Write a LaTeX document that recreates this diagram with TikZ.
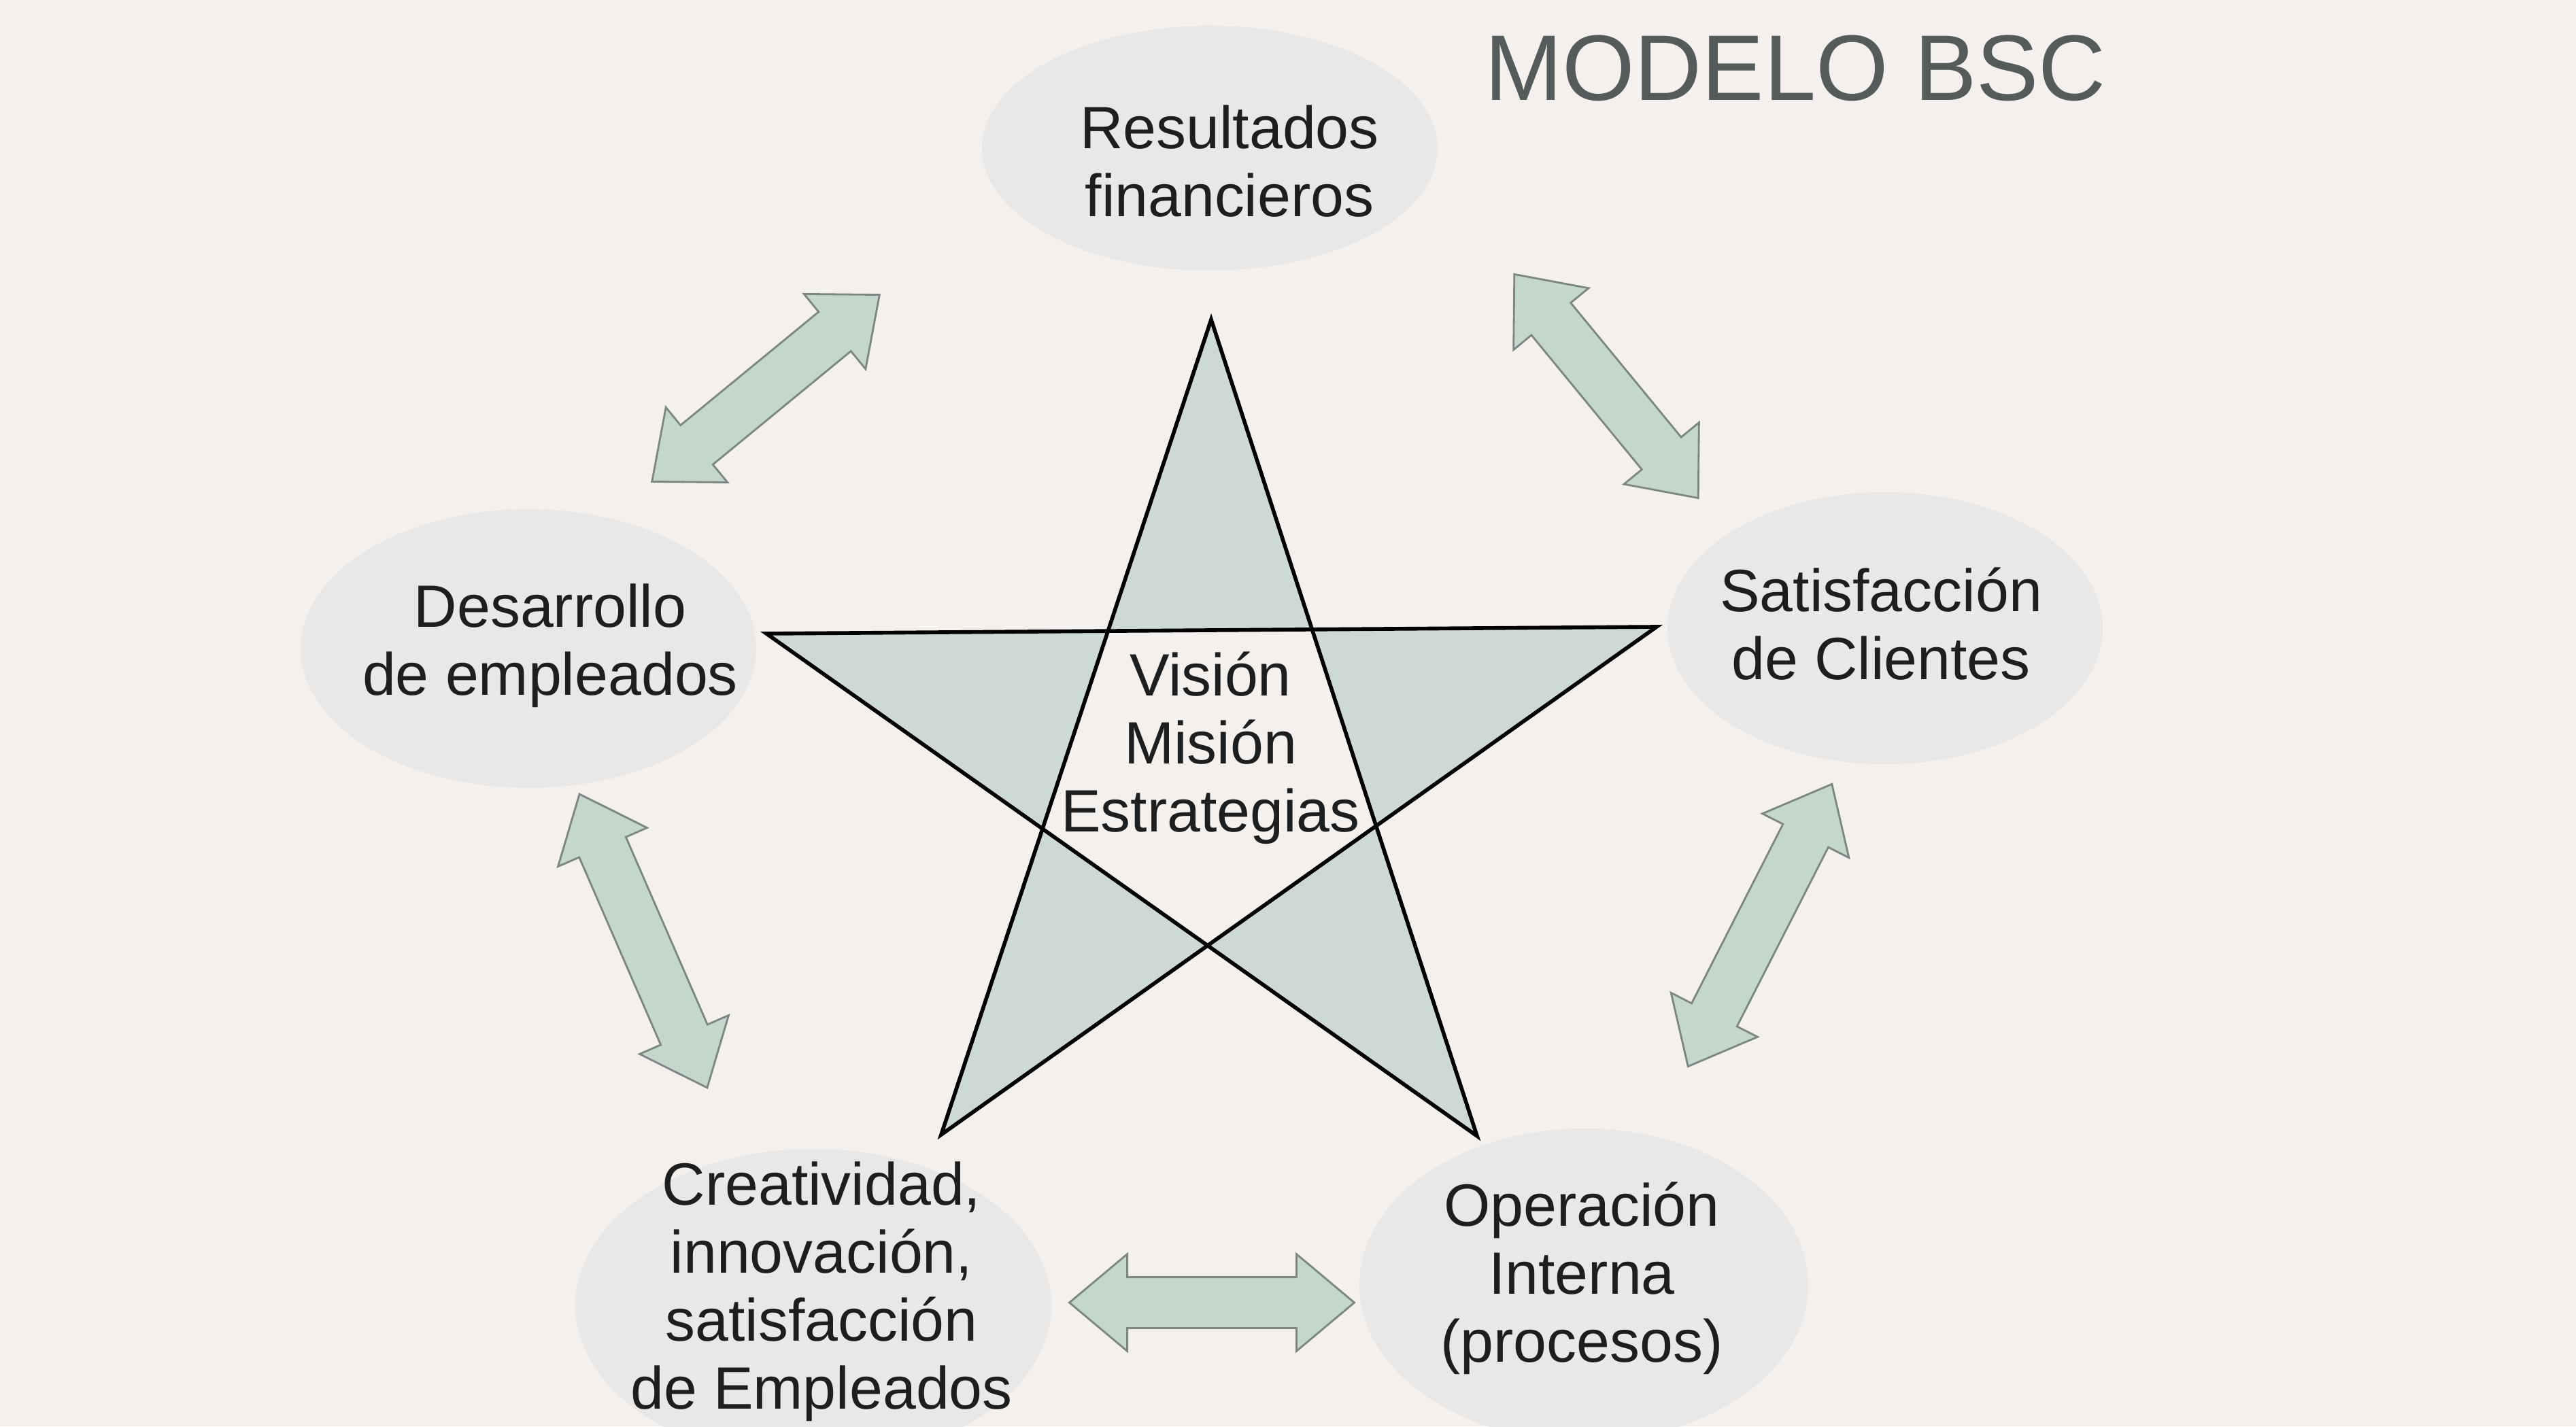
\documentclass[tikz,border=0pt]{standalone}
\usepackage{fontspec}
\setmainfont{Liberation Sans}
\usepackage{tikz}
\usetikzlibrary{shapes.arrows}
\definecolor{hoja}{RGB}{243,240,238}
\definecolor{ovalo}{RGB}{234,232,230}
\definecolor{estrella}{RGB}{205,218,212}
\definecolor{flechaverde}{RGB}{195,215,205}
\definecolor{bordeflecha}{RGB}{125,135,130}
\definecolor{titulogris}{RGB}{85,90,90}
\definecolor{letra}{RGB}{30,30,30}
\tikzset{
  rotulo/.style={align=center, text=letra, inner sep=0pt, font=\fontsize{25}{28.5}\selectfont},
  titulo/.style={text=titulogris, inner sep=0pt, font=\fontsize{39}{44}\selectfont},
  flecha/.style={double arrow, draw=bordeflecha, fill=flechaverde, line width=0.8pt,
    inner xsep=0pt, inner ysep=0.36cm, double arrow head extend=0.34cm, double arrow tip angle=80},
}

\begin{document}
\begin{tikzpicture}
\fill[hoja] (0,0) rectangle (37.88,20.98);
\useasboundingbox (0,0) rectangle (37.88,20.98);
\fill[ovalo] (17.79,18.80) ellipse [x radius=3.35, y radius=1.8];
\fill[ovalo] (7.77,11.44) ellipse [x radius=3.35, y radius=2.05];
\fill[ovalo] (27.72,11.74) ellipse [x radius=3.2, y radius=2.0];
\fill[ovalo] (11.96,1.78) ellipse [x radius=3.5, y radius=2.3];
\fill[ovalo] (23.29,2.08) ellipse [x radius=3.3, y radius=2.3];
\coordinate (pa) at (17.81,16.28);
\coordinate (pb) at (24.36,11.76);
\coordinate (pc) at (21.72,4.27);
\coordinate (pd) at (13.84,4.29);
\coordinate (pe) at (11.27,11.66);
\filldraw[fill=estrella, even odd rule, line width=1.6pt] (pa)--(pd)--(pb)--(pe)--(pc)--cycle;
\node[flecha, rotate=39.4, minimum height=4.33cm] (f1) at (11.26,15.27) {};
\node[flecha, rotate=-50.6, minimum height=4.26cm] (f2) at (23.62,15.30) {};
\node[flecha, rotate=63, minimum height=4.66cm] (f3) at (25.88,7.37) {};
\node[flecha, rotate=-66.5, minimum height=4.71cm] (f4) at (9.46,7.14) {};
\node[flecha, minimum height=4.19cm] (f5) at (17.82,1.82) {};
\node[rotulo] (fin) at (18.08,18.61) {Resultados\\financieros};
\node[rotulo] (des) at (8.09,11.48) {Desarrollo\\de empleados};
\node[rotulo] (cli) at (27.66,11.80) {Satisfacción\\de Clientes};
\node[rotulo] (cre) at (12.08,1.98) {Creatividad,\\innovación,\\satisfacción\\de Empleados};
\node[rotulo] (ope) at (23.26,2.18) {Operación\\Interna\\(procesos)};
\node[rotulo] (vis) at (17.80,9.98) {Visión\\Misión\\Estrategias};
\node[titulo] (tit) at (26.40,19.98) {MODELO BSC};
\end{tikzpicture}
\end{document}
